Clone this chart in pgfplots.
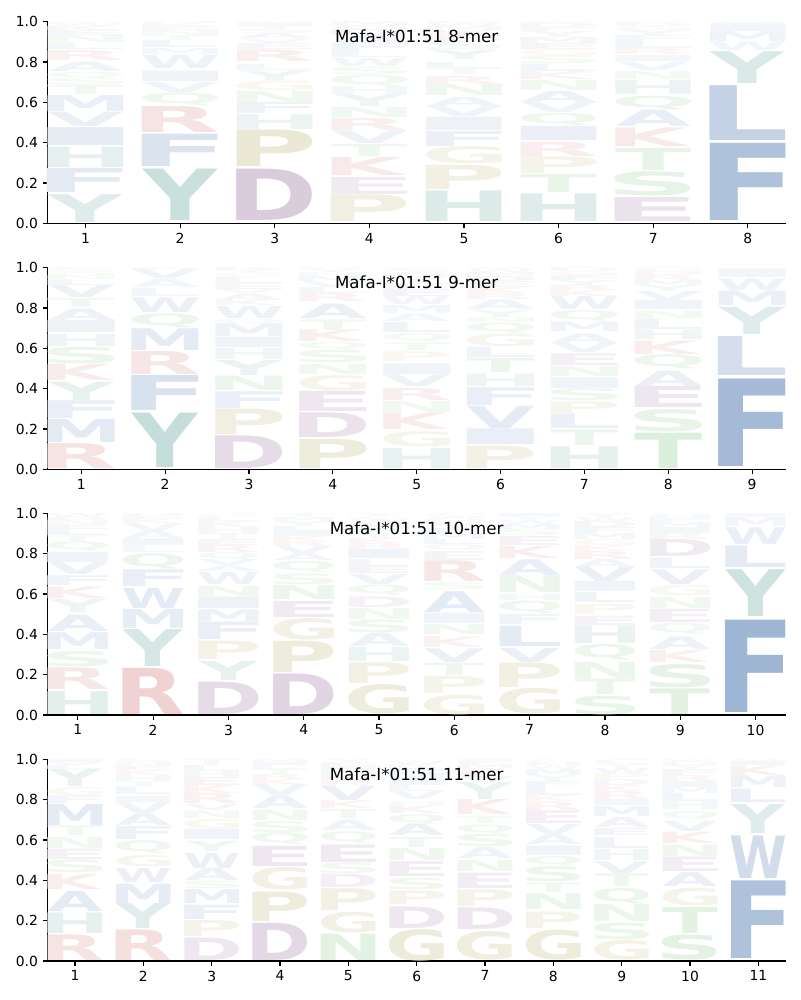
\documentclass[border=0pt]{standalone}
\usepackage{fontspec}
\setmainfont{DejaVu Sans}
\usepackage{graphicx}
\usepackage{pgfplots}
\usepackage{pgfplotstable}
\pgfplotsset{compat=1.18}

\definecolor{cblue}{RGB}{40,90,160}
\definecolor{cteal}{RGB}{40,130,120}
\definecolor{cpurp}{RGB}{110,50,120}
\definecolor{ckhaki}{RGB}{150,140,40}
\definecolor{cred}{RGB}{190,60,60}
\definecolor{cgreen}{RGB}{60,160,60}
\colorlet{aaA}{cblue}\colorlet{aaC}{ckhaki}\colorlet{aaF}{cblue}\colorlet{aaI}{cblue}
\colorlet{aaL}{cblue}\colorlet{aaM}{cblue}\colorlet{aaV}{cblue}\colorlet{aaW}{cblue}
\colorlet{aaH}{cteal}\colorlet{aaY}{cteal}
\colorlet{aaD}{cpurp}\colorlet{aaE}{cpurp}
\colorlet{aaG}{ckhaki}\colorlet{aaP}{ckhaki}
\colorlet{aaK}{cred}\colorlet{aaR}{cred}
\colorlet{aaN}{cgreen}\colorlet{aaQ}{cgreen}\colorlet{aaS}{cgreen}\colorlet{aaT}{cgreen}

\newcount\glyphno
\newcommand\inkbox{\hbox{%
  \glyphno=\expandafter\XeTeXcharglyph\expandafter`\tmpL\relax
  \kern-\XeTeXglyphbounds1 \glyphno
  \tmpL
  \kern-\XeTeXglyphbounds3 \glyphno}}
\newcommand\logoletter[3]{%
  \edef\tmpL{#1}%
  \resizebox*{#2}{#3}{\bfseries\inkbox}}

\pgfplotsset{
  /pgf/number format/assume math mode=true,
  logoaxis/.style={
    anchor=south west, scale only axis, width=531.36pt, height=145.2pt,
    ymin=0, ymax=1, ytick={0,0.2,0.4,0.6,0.8,1},
    yticklabel style={/pgf/number format/.cd, fixed, fixed zerofill, precision=1},
    axis x line*=bottom, axis y line*=left,
    axis line style={line width=0.8pt, black},
    tick align=outside, major tick length=3.5pt,
    every tick/.style={black, line width=0.8pt},
    tick label style={font=\fontsize{10}{12}\selectfont},
    every axis title shift=0pt,
    title style={at={(0.5,0.926)}, anchor=center, font=\fontsize{12}{14.4}\selectfont},
    clip=false,
  },
  logo/.style={
    draw=none, mark=none,
    point meta=explicit symbolic,
    visualization depends on={(\thisrow{y1}-\thisrow{y0})*145.2 \as \myH},
    visualization depends on={int(min(52,3+90*(\thisrow{y1}-\thisrow{y0}))) \as \myA},
    nodes near coords={\logoletter{\pgfplotspointmeta}{#1}{\myH pt}},
    every node near coord/.append style={anchor=south, inner sep=0pt, outer sep=0pt, text=aa\pgfplotspointmeta!\myA!white},
  },
}

\pgfplotstableread{
x y0 y1 L
1 0.005 0.143 Y
1 0.152 0.272 F
1 0.277 0.379 H
1 0.384 0.473 I
1 0.481 0.552 V
1 0.555 0.634 M
1 0.638 0.684 T
1 0.690 0.720 S
1 0.720 0.750 Q
1 0.753 0.800 A
1 0.807 0.857 R
1 0.860 0.893 L
1 0.895 0.930 N
1 0.930 0.955 E
1 0.955 0.975 K
1 0.975 0.990 W
1 0.990 1.000 C
2 0.012 0.267 Y
2 0.280 0.440 F
2 0.448 0.577 R
2 0.585 0.647 Q
2 0.650 0.700 V
2 0.703 0.755 I
2 0.755 0.765 S
2 0.766 0.832 W
2 0.835 0.865 M
2 0.870 0.905 L
2 0.905 0.930 T
2 0.930 0.955 N
2 0.955 0.975 E
2 0.975 0.990 K
2 0.990 1.000 H
3 0.012 0.267 D
3 0.280 0.461 P
3 0.465 0.539 H
3 0.544 0.600 F
3 0.600 0.656 N
3 0.659 0.707 G
3 0.708 0.755 Y
3 0.760 0.790 L
3 0.800 0.857 R
3 0.860 0.890 E
3 0.893 0.915 V
3 0.915 0.940 A
3 0.940 0.960 S
3 0.960 0.975 T
3 0.975 0.990 I
3 0.990 1.000 M
4 0.008 0.140 P
4 0.145 0.230 E
4 0.236 0.326 K
4 0.330 0.390 T
4 0.395 0.458 V
4 0.460 0.520 R
4 0.527 0.577 N
4 0.580 0.640 Y
4 0.640 0.680 H
4 0.680 0.735 Q
4 0.735 0.770 S
4 0.780 0.820 W
4 0.820 0.850 L
4 0.850 0.890 F
4 0.890 0.930 A
4 0.930 0.960 D
4 0.960 0.980 G
4 0.980 1.000 M
5 0.008 0.160 H
5 0.168 0.288 P
5 0.293 0.379 G
5 0.382 0.456 F
5 0.461 0.527 I
5 0.530 0.580 V
5 0.580 0.625 A
5 0.634 0.690 N
5 0.690 0.730 R
5 0.737 0.766 T
5 0.770 0.800 L
5 0.810 0.857 Y
5 0.860 0.900 S
5 0.900 0.930 E
5 0.930 0.955 K
5 0.955 0.975 M
5 0.975 0.990 W
5 0.990 1.000 D
6 0.008 0.145 H
6 0.152 0.242 T
6 0.247 0.330 P
6 0.333 0.403 R
6 0.410 0.480 I
6 0.486 0.547 Q
6 0.550 0.600 V
6 0.600 0.656 A
6 0.660 0.710 N
6 0.712 0.750 K
6 0.753 0.790 L
6 0.790 0.830 S
6 0.830 0.860 G
6 0.860 0.890 E
6 0.890 0.920 M
6 0.920 0.950 Y
6 0.950 0.970 F
6 0.970 0.990 D
6 0.990 1.000 W
7 0.008 0.127 E
7 0.135 0.255 S
7 0.260 0.370 T
7 0.380 0.472 K
7 0.478 0.560 A
7 0.563 0.630 Q
7 0.640 0.710 H
7 0.713 0.753 N
7 0.758 0.800 V
7 0.800 0.830 I
7 0.835 0.865 R
7 0.865 0.900 L
7 0.900 0.930 F
7 0.930 0.955 Y
7 0.955 0.975 G
7 0.975 0.990 D
7 0.990 1.000 P
8 0.016 0.399 F
8 0.412 0.684 L
8 0.695 0.853 Y
8 0.857 0.900 W
8 0.900 0.950 M
8 0.950 0.990 I
8 0.990 1.000 V
}\tabA

\pgfplotstableread{
x y0 y1 L
1 0.005 0.129 R
1 0.134 0.248 M
1 0.252 0.340 F
1 0.343 0.434 Y
1 0.439 0.520 K
1 0.525 0.607 S
1 0.611 0.673 H
1 0.676 0.736 I
1 0.740 0.797 A
1 0.800 0.845 T
1 0.850 0.912 V
1 0.912 0.940 L
1 0.940 0.960 N
1 0.960 0.975 Q
1 0.975 0.990 G
1 0.990 1.000 E
2 0.010 0.280 Y
2 0.290 0.464 F
2 0.469 0.583 R
2 0.587 0.695 M
2 0.703 0.772 Q
2 0.777 0.850 W
2 0.855 0.896 L
2 0.903 0.945 A
2 0.945 0.990 V
2 0.990 1.000 E
3 0.005 0.167 D
3 0.173 0.299 P
3 0.302 0.385 F
3 0.390 0.462 N
3 0.467 0.541 Y
3 0.545 0.600 H
3 0.602 0.653 I
3 0.657 0.720 M
3 0.720 0.745 Q
3 0.750 0.810 W
3 0.810 0.838 K
3 0.838 0.870 A
3 0.870 0.890 V
3 0.890 0.920 E
3 0.920 0.950 L
3 0.950 0.970 G
3 0.970 0.985 T
3 0.985 1.000 R
4 0.005 0.150 P
4 0.157 0.280 D
4 0.285 0.385 E
4 0.390 0.465 G
4 0.470 0.520 N
4 0.528 0.590 S
4 0.594 0.630 Q
4 0.632 0.690 K
4 0.690 0.743 T
4 0.748 0.820 A
4 0.830 0.870 R
4 0.870 0.900 L
4 0.900 0.930 V
4 0.930 0.955 M
4 0.955 0.975 H
4 0.975 0.990 Y
4 0.990 1.000 F
5 0.005 0.104 H
5 0.112 0.187 G
5 0.195 0.277 K
5 0.280 0.335 N
5 0.340 0.400 R
5 0.410 0.467 V
5 0.472 0.525 I
5 0.533 0.582 P
5 0.590 0.627 T
5 0.632 0.673 Q
5 0.680 0.730 L
5 0.735 0.772 A
5 0.775 0.815 M
5 0.815 0.855 W
5 0.855 0.890 E
5 0.890 0.920 F
5 0.920 0.950 Y
5 0.950 0.970 D
5 0.970 0.990 S
5 0.990 1.000 C
6 0.005 0.116 P
6 0.122 0.200 I
6 0.200 0.310 V
6 0.318 0.406 F
6 0.410 0.472 H
6 0.480 0.550 T
6 0.554 0.607 L
6 0.610 0.673 G
6 0.677 0.727 Q
6 0.730 0.755 N
6 0.755 0.790 Y
6 0.790 0.838 A
6 0.840 0.870 R
6 0.870 0.900 K
6 0.900 0.930 E
6 0.930 0.955 D
6 0.955 0.975 M
6 0.975 0.990 W
6 0.990 1.000 S
7 0.005 0.112 H
7 0.117 0.195 T
7 0.203 0.274 L
7 0.277 0.335 P
7 0.340 0.400 S
7 0.400 0.454 I
7 0.460 0.510 N
7 0.516 0.574 E
7 0.577 0.625 V
7 0.625 0.673 A
7 0.683 0.730 M
7 0.735 0.790 Q
7 0.790 0.855 W
7 0.855 0.885 K
7 0.885 0.910 R
7 0.910 0.935 Y
7 0.935 0.960 F
7 0.960 0.980 G
7 0.980 1.000 D
8 0.005 0.180 T
8 0.186 0.297 S
8 0.305 0.410 E
8 0.413 0.490 A
8 0.496 0.566 Q
8 0.570 0.637 K
8 0.643 0.690 H
8 0.695 0.747 L
8 0.750 0.787 N
8 0.790 0.835 I
8 0.835 0.880 V
8 0.880 0.910 Y
8 0.910 0.935 M
8 0.935 0.960 R
8 0.960 0.980 D
8 0.980 1.000 G
9 0.016 0.450 F
9 0.467 0.660 L
9 0.670 0.805 Y
9 0.813 0.885 M
9 0.888 0.945 W
9 0.950 0.992 I
}\tabB

\pgfplotstableread{
x y0 y1 L
1 0.003 0.116 H
1 0.124 0.232 R
1 0.240 0.315 S
1 0.323 0.406 M
1 0.415 0.497 A
1 0.506 0.572 Y
1 0.577 0.635 K
1 0.641 0.690 F
1 0.696 0.755 V
1 0.758 0.808 I
1 0.812 0.857 Q
1 0.862 0.890 T
1 0.890 0.920 L
1 0.920 0.945 E
1 0.945 0.965 N
1 0.965 0.980 D
1 0.980 1.000 W
2 0.003 0.232 R
2 0.240 0.423 Y
2 0.431 0.526 M
2 0.530 0.630 W
2 0.635 0.718 F
2 0.725 0.800 Q
2 0.805 0.838 L
2 0.840 0.874 I
2 0.874 0.910 A
2 0.910 0.950 V
2 0.950 0.970 K
2 0.970 0.985 E
2 0.985 1.000 H
3 0.003 0.163 D
3 0.169 0.264 Y
3 0.274 0.365 P
3 0.373 0.460 F
3 0.464 0.522 M
3 0.527 0.584 I
3 0.589 0.639 N
3 0.647 0.708 W
3 0.713 0.740 A
3 0.740 0.770 V
3 0.770 0.804 Q
3 0.804 0.840 R
3 0.840 0.870 E
3 0.870 0.900 T
3 0.900 0.930 H
3 0.930 0.960 K
3 0.960 0.980 L
3 0.980 1.000 G
4 0.003 0.204 D
4 0.210 0.365 P
4 0.373 0.478 G
4 0.484 0.564 E
4 0.572 0.642 N
4 0.647 0.700 S
4 0.708 0.763 Q
4 0.766 0.800 A
4 0.800 0.837 V
4 0.837 0.860 R
4 0.860 0.885 K
4 0.885 0.910 I
4 0.910 0.935 L
4 0.935 0.960 Y
4 0.960 0.980 M
4 0.980 1.000 T
5 0.003 0.149 G
5 0.157 0.260 P
5 0.265 0.335 H
5 0.340 0.406 A
5 0.410 0.473 S
5 0.476 0.530 N
5 0.534 0.586 D
5 0.592 0.642 Q
5 0.647 0.697 V
5 0.700 0.735 E
5 0.735 0.770 L
5 0.774 0.820 I
5 0.820 0.850 R
5 0.850 0.875 K
5 0.875 0.900 T
5 0.900 0.925 F
5 0.925 0.950 M
5 0.950 0.970 W
5 0.970 0.985 C
5 0.985 1.000 Y
6 0.003 0.100 G
6 0.105 0.190 P
6 0.196 0.257 T
6 0.262 0.330 V
6 0.337 0.390 K
6 0.400 0.448 N
6 0.453 0.505 I
6 0.510 0.613 A
6 0.620 0.655 S
6 0.660 0.763 R
6 0.768 0.812 E
6 0.817 0.845 Q
6 0.845 0.870 L
6 0.870 0.900 M
6 0.900 0.925 F
6 0.925 0.950 Y
6 0.950 0.970 H
6 0.970 0.985 W
6 0.985 1.000 C
7 0.003 0.130 G
7 0.136 0.257 P
7 0.262 0.332 V
7 0.340 0.440 L
7 0.448 0.498 F
7 0.502 0.564 Q
7 0.569 0.600 H
7 0.605 0.688 N
7 0.693 0.771 A
7 0.776 0.837 K
7 0.842 0.887 E
7 0.887 0.920 S
7 0.920 0.945 M
7 0.945 0.965 W
7 0.965 0.985 Y
7 0.985 1.000 I
8 0.003 0.095 S
8 0.100 0.177 T
8 0.182 0.262 N
8 0.270 0.348 Q
8 0.353 0.440 H
8 0.444 0.490 E
8 0.500 0.552 P
8 0.556 0.605 L
8 0.610 0.660 I
8 0.660 0.730 V
8 0.730 0.770 A
8 0.770 0.810 R
8 0.810 0.840 K
8 0.840 0.870 G
8 0.870 0.900 M
8 0.900 0.930 F
8 0.930 0.960 D
8 0.960 0.980 W
8 0.980 1.000 Y
9 0.003 0.130 T
9 0.136 0.252 S
9 0.260 0.320 K
9 0.327 0.390 A
9 0.398 0.453 Q
9 0.460 0.526 E
9 0.530 0.584 N
9 0.590 0.642 G
9 0.647 0.720 V
9 0.727 0.780 L
9 0.785 0.870 D
9 0.870 0.900 R
9 0.900 0.930 I
9 0.930 0.955 M
9 0.955 0.975 F
9 0.975 0.990 H
9 0.990 1.000 W
10 0.012 0.470 F
10 0.486 0.718 Y
10 0.730 0.837 L
10 0.846 0.929 W
10 0.934 0.978 M
10 0.978 0.998 I
}\tabC

\pgfplotstableread{
x y0 y1 L
1 0.002 0.129 R
1 0.138 0.240 H
1 0.245 0.345 A
1 0.353 0.428 K
1 0.436 0.500 S
1 0.505 0.556 E
1 0.560 0.615 N
1 0.620 0.668 T
1 0.672 0.776 M
1 0.780 0.817 F
1 0.820 0.860 G
1 0.864 0.950 Y
1 0.950 0.970 L
1 0.970 0.985 V
1 0.985 1.000 I
2 0.002 0.154 R
2 0.160 0.284 Y
2 0.287 0.383 M
2 0.390 0.460 W
2 0.466 0.522 G
2 0.530 0.594 Q
2 0.600 0.665 F
2 0.672 0.730 A
2 0.730 0.784 V
2 0.788 0.820 I
2 0.826 0.864 L
2 0.867 0.890 T
2 0.890 0.920 H
2 0.920 0.945 K
2 0.945 0.965 E
2 0.965 0.985 N
2 0.985 1.000 S
3 0.002 0.113 D
3 0.120 0.200 P
3 0.207 0.278 F
3 0.284 0.353 M
3 0.357 0.395 S
3 0.400 0.460 A
3 0.460 0.535 W
3 0.544 0.594 Y
3 0.600 0.652 I
3 0.655 0.700 G
3 0.705 0.743 N
3 0.746 0.776 V
3 0.780 0.830 R
3 0.830 0.870 K
3 0.870 0.910 E
3 0.910 0.940 H
3 0.940 0.970 L
3 0.970 1.000 T
4 0.002 0.187 D
4 0.196 0.342 P
4 0.350 0.461 G
4 0.469 0.569 E
4 0.577 0.635 Q
4 0.638 0.693 S
4 0.698 0.751 N
4 0.755 0.818 A
4 0.820 0.875 V
4 0.875 0.900 K
4 0.900 0.925 R
4 0.925 0.950 T
4 0.950 0.970 L
4 0.970 0.985 I
4 0.985 1.000 M
5 0.002 0.133 N
5 0.138 0.240 G
5 0.249 0.357 P
5 0.362 0.428 D
5 0.433 0.486 S
5 0.490 0.577 E
5 0.585 0.643 Q
5 0.648 0.700 A
5 0.705 0.750 T
5 0.755 0.793 K
5 0.797 0.867 V
5 0.867 0.900 R
5 0.900 0.925 L
5 0.925 0.950 H
5 0.950 0.970 I
5 0.970 0.985 F
5 0.985 1.000 Y
6 0.002 0.158 G
6 0.163 0.270 D
6 0.278 0.345 P
6 0.353 0.410 S
6 0.420 0.494 E
6 0.500 0.560 N
6 0.565 0.615 T
6 0.620 0.677 A
6 0.680 0.726 Q
6 0.730 0.768 K
6 0.770 0.790 H
6 0.800 0.840 V
6 0.840 0.870 L
6 0.870 0.900 I
6 0.900 0.930 M
6 0.930 0.955 F
6 0.955 0.975 R
6 0.975 0.990 W
6 0.990 1.000 C
7 0.005 0.146 G
7 0.154 0.262 D
7 0.270 0.353 P
7 0.360 0.436 E
7 0.444 0.500 N
7 0.506 0.560 A
7 0.566 0.627 S
7 0.632 0.677 Q
7 0.680 0.716 T
7 0.726 0.800 K
7 0.800 0.884 Y
7 0.884 0.910 V
7 0.910 0.935 L
7 0.935 0.955 R
7 0.955 0.975 M
7 0.975 0.990 F
7 0.990 1.000 I
8 0.005 0.154 G
8 0.163 0.245 P
8 0.254 0.333 N
8 0.340 0.387 T
8 0.395 0.470 S
8 0.473 0.520 Q
8 0.522 0.569 I
8 0.577 0.627 A
8 0.627 0.677 V
8 0.680 0.743 E
8 0.748 0.790 R
8 0.790 0.820 K
8 0.820 0.860 L
8 0.860 0.890 F
8 0.890 0.920 Y
8 0.920 0.950 M
8 0.950 0.970 W
8 0.970 0.985 H
8 0.985 1.000 C
9 0.005 0.101 G
9 0.104 0.187 S
9 0.196 0.279 N
9 0.284 0.361 Q
9 0.370 0.433 T
9 0.436 0.494 V
9 0.500 0.555 H
9 0.560 0.615 L
9 0.620 0.655 E
9 0.660 0.710 A
9 0.718 0.768 M
9 0.770 0.800 I
9 0.800 0.840 R
9 0.840 0.870 K
9 0.870 0.900 D
9 0.900 0.930 P
9 0.930 0.955 W
9 0.955 0.975 Y
9 0.975 1.000 C
10 0.005 0.129 S
10 0.138 0.267 T
10 0.274 0.361 G
10 0.367 0.436 A
10 0.443 0.515 E
10 0.520 0.577 N
10 0.582 0.638 K
10 0.643 0.693 V
10 0.700 0.742 Q
10 0.750 0.790 H
10 0.790 0.830 L
10 0.830 0.860 M
10 0.860 0.890 I
10 0.890 0.920 R
10 0.920 0.950 F
10 0.950 0.970 Y
10 0.970 0.990 D
10 0.990 1.000 W
11 0.013 0.398 F
11 0.411 0.622 W
11 0.632 0.776 Y
11 0.784 0.851 L
11 0.859 0.917 M
11 0.920 0.967 K
11 0.967 0.990 I
11 0.990 1.000 V
}\tabD

\begin{document}
\begin{tikzpicture}
\path[use as bounding box] (0,0) rectangle (576pt,720pt);

\begin{axis}[logoaxis, at={(34.34pt,559.2pt)}, xmin=0.6, xmax=8.4, xtick={1,...,8},
  title={Mafa-I*01:51 8-mer}]
\addplot[logo=54.5pt] table[x=x,y=y0,meta=L]{\tabA};
\end{axis}

\begin{axis}[logoaxis, at={(34.34pt,382.1pt)}, xmin=0.6, xmax=9.4, xtick={1,...,9},
  title={Mafa-I*01:51 9-mer}]
\addplot[logo=48.3pt] table[x=x,y=y0,meta=L]{\tabB};
\end{axis}

\begin{axis}[logoaxis, at={(34.34pt,205.2pt)}, xmin=0.6, xmax=10.4, xtick={1,...,10},
  title={Mafa-I*01:51 10-mer}]
\addplot[logo=43.4pt] table[x=x,y=y0,meta=L]{\tabC};
\end{axis}

\begin{axis}[logoaxis, at={(34.34pt,28.08pt)}, xmin=0.6, xmax=11.4, xtick={1,...,11},
  title={Mafa-I*01:51 11-mer}]
\addplot[logo=39.36pt] table[x=x,y=y0,meta=L]{\tabD};
\end{axis}
\end{tikzpicture}
\end{document}
